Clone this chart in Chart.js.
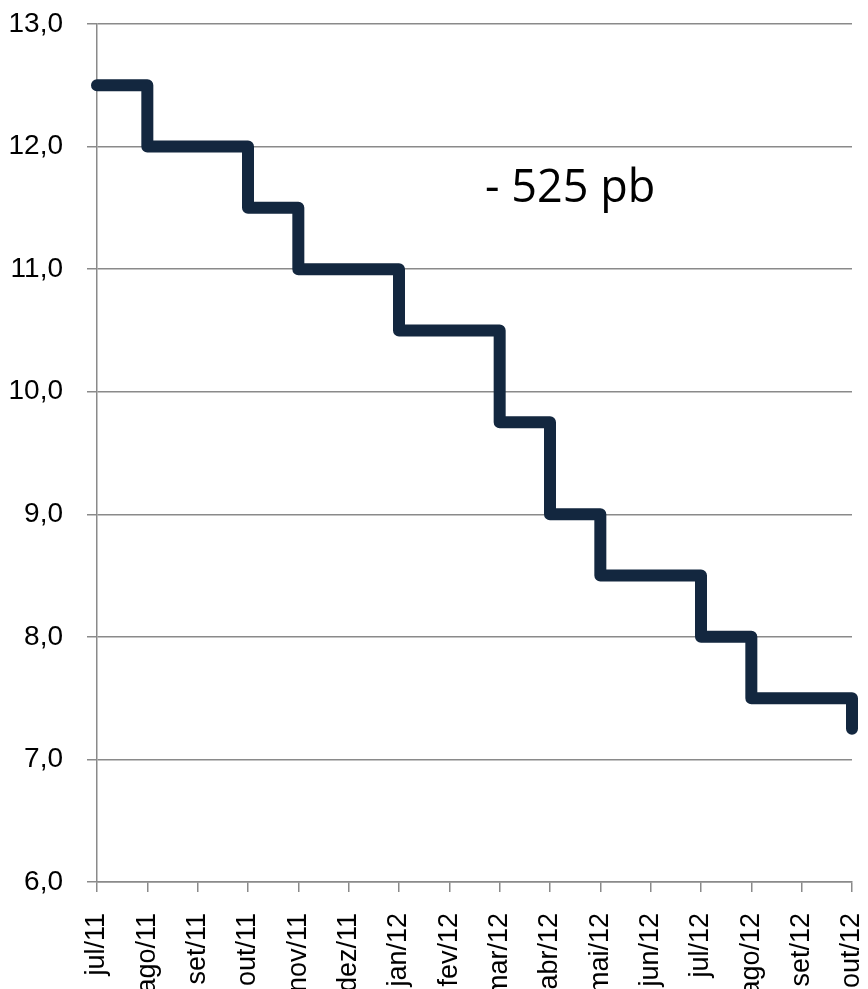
<!DOCTYPE html>
<html>
<head>
<meta charset="utf-8">
<script src="https://cdn.jsdelivr.net/npm/chart.js@4.4.1/dist/chart.umd.min.js"></script>
<style>
  html, body { margin: 0; padding: 0; background: #fff; overflow: hidden; }
  #wrap { width: 868px; height: 989px; position: relative; }
</style>
</head>
<body>
<div id="wrap"><canvas id="selicChart"></canvas></div>
<script>
const months = ['jul/11', 'ago/11', 'set/11', 'out/11', 'nov/11', 'dez/11', 'jan/12', 'fev/12',
                'mar/12', 'abr/12', 'mai/12', 'jun/12', 'jul/12', 'ago/12', 'set/12', 'out/12'];
const selic = [12.5, 12.0, 12.0, 11.5, 11.0, 11.0, 10.5, 10.5, 9.75, 9.0, 8.5, 8.5, 8.0, 7.5, 7.5, 7.25];
const yTicks = [6, 7, 8, 9, 10, 11, 12, 13];
const note = '- 525 pb';

const gridGray = '#8a8a8a';

// text label drawn inside the plot
const notePlugin = {
    id: 'notePlugin',
    afterDatasetsDraw(chart) {
        const ctx = chart.ctx;
        const x = chart.scales.x.getPixelForValue(9.4);
        const y = chart.scales.y.getPixelForValue(11.65);
        ctx.save();
        ctx.font = '45px "Open Sans", sans-serif';
        ctx.fillStyle = '#000';
        ctx.textAlign = 'center';
        ctx.textBaseline = 'middle';
        ctx.fillText(note, x, y);
        ctx.restore();
    }
};

const ctx = document.getElementById('selicChart').getContext('2d');
const selicChart = new Chart(ctx, {
    type: 'line',
    data: {
        labels: months,
        datasets: [{
            data: selic,
            borderColor: '#13273f',
            borderWidth: 12,
            stepped: true,
            pointRadius: 0,
            borderJoinStyle: 'round',
            borderCapStyle: 'round',
            fill: false,
            clip: false
        }]
    },
    options: {
        responsive: true,
        maintainAspectRatio: false,
        animation: false,
        layout: { padding: { top: 24, right: 16, left: 0, bottom: 0 } },
        plugins: {
            legend: { display: false },
            tooltip: { enabled: false }
        },
        scales: {
            x: {
                offset: false,
                afterFit: (scale) => {
                    scale.height = 107;
                    scale.paddingLeft = 0;
                    scale.paddingRight = 0;
                },
                grid: {
                    drawOnChartArea: false,
                    drawTicks: true,
                    tickLength: 10,
                    color: gridGray,
                    lineWidth: 1.5
                },
                border: { color: gridGray, width: 1.5 },
                ticks: {
                    autoSkip: false,
                    minRotation: 90,
                    maxRotation: 90,
                    padding: 21,
                    color: '#000',
                    font: { family: '"Liberation Sans", Arial, sans-serif', size: 27 }
                }
            },
            y: {
                min: 6,
                max: 13,
                afterFit: (scale) => {
                    scale.width = 97;
                    scale.paddingTop = 0;
                    scale.paddingBottom = 0;
                },
                afterBuildTicks: (scale) => { scale.ticks = yTicks.map(v => ({ value: v })); },
                grid: {
                    color: gridGray,
                    lineWidth: 1.5,
                    tickLength: 10
                },
                border: { color: gridGray, width: 1.5 },
                ticks: {
                    padding: 24,
                    color: '#000',
                    font: { family: '"Liberation Sans", Arial, sans-serif', size: 28 },
                    callback: (v) => v.toFixed(1).replace('.', ',')
                }
            }
        }
    },
    plugins: [notePlugin]
});
</script>
</body>
</html>
